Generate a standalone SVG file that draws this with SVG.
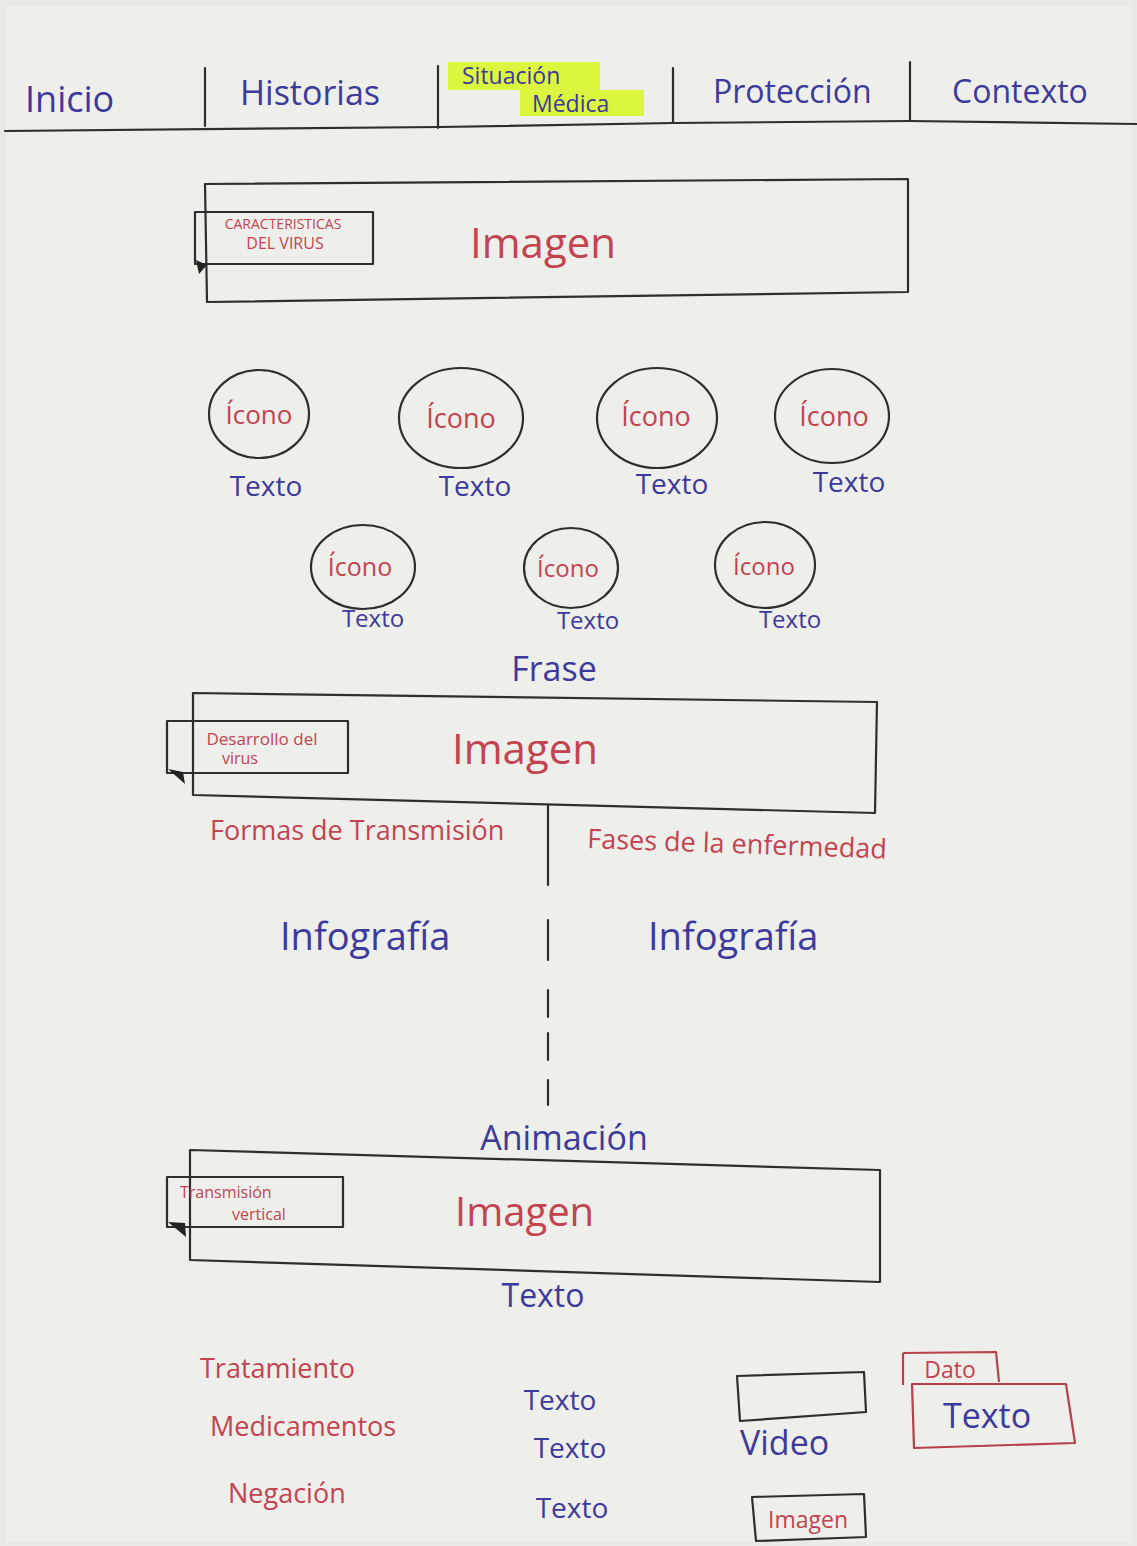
<svg xmlns="http://www.w3.org/2000/svg" width="1137" height="1546" viewBox="0 0 1137 1546">
<defs>
<style>
.t{font-family:"Open Sans","Liberation Sans",sans-serif;}
.b{fill:#3c3a9c;}
.r{fill:#c24450;}
.ln{fill:none;stroke:#2e2e2e;stroke-width:2.2;stroke-linecap:round;stroke-linejoin:round;}
.rb{fill:none;stroke:#b8404a;stroke-width:2.2;stroke-linejoin:round;}
.mid{text-anchor:middle;}
</style>
</defs>
<rect x="0" y="0" width="1137" height="1546" fill="#e9e9e5"/>
<rect x="6" y="6" width="1126" height="1536" fill="#eeeeea"/>

<g id="nav">
<path class="ln" d="M5 131 L440 127 L673 123 L910 121 L1137 124"/>
<path class="ln" d="M205 68 L205 126 M438 66 L438 128 M673 68 L673 122 M910 62 L910 120"/>
<rect x="448" y="62" width="152" height="28" fill="#dcf53e"/>
<rect x="520" y="90" width="124" height="26" fill="#dcf53e"/>
<text class="t b" x="25" y="112" font-size="36">Inicio</text>
<text class="t b" x="240" y="105" font-size="34">Historias</text>
<text class="t b" x="462" y="84" font-size="23">Situación</text>
<text class="t b" x="532" y="112" font-size="23">Médica</text>
<text class="t b" x="713" y="103" font-size="32">Protección</text>
<text class="t b" x="952" y="103" font-size="32">Contexto</text>
</g>

<g id="section-caracteristicas">
<path class="ln" d="M205 184 L908 179 L908 292 L207 302 Z"/>
<rect class="ln" x="195" y="212" width="178" height="52" fill="#eeeeea"/>
<path d="M196 260 L207 265 L199 274 Z" fill="#222"/>
<text class="t r mid" x="283" y="229" font-size="14">CARACTERISTICAS</text>
<text class="t r mid" x="285" y="249" font-size="16">DEL VIRUS</text>
<text class="t r" x="470" y="258" font-size="42">Imagen</text>
</g>

<g id="icono-1"><ellipse class="ln" cx="259" cy="414" rx="50" ry="44"/><text class="t r mid" x="259" y="424" font-size="26">Ícono</text><text class="t b mid" x="266" y="496" font-size="28">Texto</text></g>
<g id="icono-2"><ellipse class="ln" cx="461" cy="418" rx="62" ry="50"/><text class="t r mid" x="461" y="428" font-size="27">Ícono</text><text class="t b mid" x="475" y="496" font-size="28">Texto</text></g>
<g id="icono-3"><ellipse class="ln" cx="657" cy="418" rx="60" ry="50"/><text class="t r mid" x="656" y="426" font-size="27">Ícono</text><text class="t b mid" x="672" y="494" font-size="28">Texto</text></g>
<g id="icono-4"><ellipse class="ln" cx="832" cy="416" rx="57" ry="47"/><text class="t r mid" x="834" y="426" font-size="27">Ícono</text><text class="t b mid" x="849" y="492" font-size="28">Texto</text></g>
<g id="icono-5"><ellipse class="ln" cx="363" cy="567" rx="52" ry="42"/><text class="t r mid" x="360" y="576" font-size="25">Ícono</text><text class="t b mid" x="373" y="627" font-size="24">Texto</text></g>
<g id="icono-6"><ellipse class="ln" cx="571" cy="568" rx="47" ry="40"/><text class="t r mid" x="568" y="577" font-size="24">Ícono</text><text class="t b mid" x="588" y="629" font-size="24">Texto</text></g>
<g id="icono-7"><ellipse class="ln" cx="765" cy="565" rx="50" ry="43"/><text class="t r mid" x="764" y="575" font-size="24">Ícono</text><text class="t b mid" x="790" y="628" font-size="24">Texto</text></g>

<g id="frase"><text class="t b mid" x="554" y="681" font-size="34">Frase</text></g>

<g id="section-desarrollo">
<path class="ln" d="M193 693 L877 702 L875 813 L193 795 Z"/>
<rect class="ln" x="167" y="721" width="181" height="52" fill="#eeeeea"/>
<path d="M168 769 L183 772 L185 784 Z" fill="#222"/>
<text class="t r mid" x="262" y="745" font-size="17">Desarrollo del</text>
<text class="t r mid" x="240" y="764" font-size="16">virus</text>
<text class="t r" x="452" y="764" font-size="42">Imagen</text>
</g>

<g id="col-transmision">
<text class="t r" x="210" y="840" font-size="27">Formas de Transmisión</text>
<text class="t b" x="280" y="950" font-size="38">Infografía</text>
</g>
<g id="col-fases">
<text class="t r" x="587" y="848" font-size="27" transform="rotate(2 587 848)">Fases de la enfermedad</text>
<text class="t b" x="648" y="950" font-size="38">Infografía</text>
</g>

<g id="connectors">
<path class="ln" d="M548 805 L548 885 M548 920 L548 960 M548 990 L548 1017 M548 1033 L548 1060 M548 1080 L548 1105"/>
</g>

<g id="section-transmision-vertical">
<text class="t b mid" x="564" y="1150" font-size="34">Animación</text>
<path class="ln" d="M190 1150 L880 1170 L880 1282 L190 1260 Z"/>
<rect class="ln" x="167" y="1177" width="176" height="50" fill="#eeeeea"/>
<path d="M168 1222 L185 1223 L186 1237 Z" fill="#222"/>
<text class="t r" x="180" y="1198" font-size="16">Transmisión</text>
<text class="t r" x="232" y="1220" font-size="16">vertical</text>
<text class="t r" x="455" y="1226" font-size="40">Imagen</text>
<text class="t b mid" x="543" y="1307" font-size="32">Texto</text>
</g>

<g id="tratamiento">
<text class="t r" x="200" y="1378" font-size="27">Tratamiento</text>
<text class="t r" x="210" y="1436" font-size="27">Medicamentos</text>
<text class="t r" x="228" y="1503" font-size="27">Negación</text>
<text class="t b mid" x="560" y="1410" font-size="28">Texto</text>
<text class="t b mid" x="570" y="1458" font-size="28">Texto</text>
<text class="t b mid" x="572" y="1518" font-size="28">Texto</text>
</g>

<g id="video">
<path class="ln" d="M737 1376 L864 1372 L866 1412 L740 1421 Z"/>
<text class="t b" x="740" y="1455" font-size="34">Video</text>
</g>

<g id="dato">
<path class="rb" d="M903 1353 L996 1352 L999 1382"/>
<path class="rb" d="M903 1353 L903 1385"/>
<text class="t r mid" x="950" y="1378" font-size="23">Dato</text>
<path class="rb" d="M912 1384 L1066 1384 L1075 1443 L914 1448 Z"/>
<text class="t b mid" x="987" y="1428" font-size="34">Texto</text>
</g>

<g id="imagen-small">
<path class="ln" d="M752 1497 L864 1494 L866 1537 L756 1541 Z"/>
<text class="t r mid" x="808" y="1528" font-size="23">Imagen</text>
</g>
</svg>
